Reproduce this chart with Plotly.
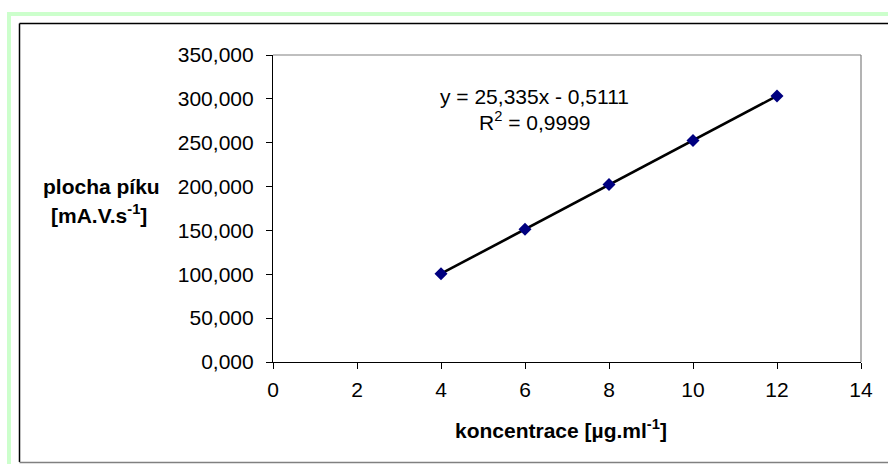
import numpy as np
import plotly.graph_objects as go

# Data
conc = [4, 6, 8, 10, 12]
area = [100.5, 151.4, 202.3, 252.5, 303.3]
x_ticks = [0, 2, 4, 6, 8, 10, 12, 14]
y_ticks = [0, 50, 100, 150, 200, 250, 300, 350]
eq_text = "y = 25,335x - 0,5111"
r2_text = "R<sup>2</sup> = 0,9999"
x_title = "<b>koncentrace [µg.ml<sup>-1</sup>]</b>"
y_title1 = "<b>plocha píku</b>"
y_title2 = "<b>[mA.V.s<sup>-1</sup>]</b>"

W, H = 888, 464
L, R, T, B = 273, 27, 55, 102
pw, ph = W - L - R, H - T - B

def px(x):
    return (x - L) / pw

def py(y):
    return (H - B - y) / ph

slope, intercept = np.polyfit(conc, area, 1)
xl = [min(conc), max(conc)]
yl = [slope * v + intercept for v in xl]

FONT = "Arial, Liberation Sans, sans-serif"

fig = go.Figure()
fig.add_trace(go.Scatter(x=xl, y=yl, mode="lines",
                         line=dict(color="black", width=2.6),
                         hoverinfo="skip", showlegend=False))
fig.add_trace(go.Scatter(x=conc, y=area, mode="markers",
                         marker=dict(symbol="diamond", size=10, color="#000080",
                                     line=dict(width=0)),
                         showlegend=False))

shapes = [
    # green outer frame
    dict(type="rect", xref="paper", yref="paper", x0=px(9), x1=px(905), y0=py(14), y1=py(480),
         line=dict(color="#CCFFCC", width=4), layer="below"),
    # black inner frame
    dict(type="line", xref="paper", yref="paper", x0=px(19.5), x1=px(19.5), y0=py(23.5), y1=py(462),
         line=dict(color="black", width=1.5)),
    dict(type="line", xref="paper", yref="paper", x0=px(19.5), x1=px(900), y0=py(23.5), y1=py(23.5),
         line=dict(color="black", width=1.5)),
    dict(type="line", xref="paper", yref="paper", x0=px(19.5), x1=px(900), y0=py(462.5), y1=py(462.5),
         line=dict(color="#808080", width=1.5)),
    # plot area top/right gray
    dict(type="line", xref="paper", yref="paper", x0=0, x1=1, y0=1, y1=1,
         line=dict(color="#808080", width=1.2)),
    dict(type="line", xref="paper", yref="paper", x0=1, x1=1, y0=0, y1=1,
         line=dict(color="#808080", width=1.2)),
]

def ann(text, x, y, size=21):
    return dict(text=text, x=px(x), y=py(y), xref="paper", yref="paper",
                xanchor="center", yanchor="middle", showarrow=False,
                font=dict(size=size, color="black", family=FONT))

annotations = [
    ann(eq_text, 534, 97),
    ann(r2_text, 535, 121),
    ann(x_title, 561, 429),
    ann(y_title1, 101, 186),
    ann(y_title2, 99, 214),
]

fig.update_layout(
    width=W, height=H,
    margin=dict(l=L, r=R, t=T, b=B, pad=0),
    paper_bgcolor="white", plot_bgcolor="white",
    separators=",.",
    font=dict(family=FONT, size=21, color="black"),
    shapes=shapes, annotations=annotations,
    showlegend=False,
)
fig.update_xaxes(range=[0, 14], tickvals=x_ticks, ticktext=[str(v) for v in x_ticks],
                 showgrid=False, zeroline=False, showline=True, linecolor="black", linewidth=1.2,
                 ticks="outside", ticklen=6, tickcolor="black", tickwidth=1.2,
                 ticklabelstandoff=3,
                 tickfont=dict(size=21, family=FONT, color="black"))
fig.update_yaxes(range=[0, 350], tickvals=y_ticks, tickformat=".3f",
                 showgrid=False, zeroline=False, showline=True, linecolor="black", linewidth=1.2,
                 ticks="outside", ticklen=6, tickcolor="black", tickwidth=1.2,
                 ticklabelstandoff=8,
                 tickfont=dict(size=21, family=FONT, color="black"))

fig.write_html("out.html")
